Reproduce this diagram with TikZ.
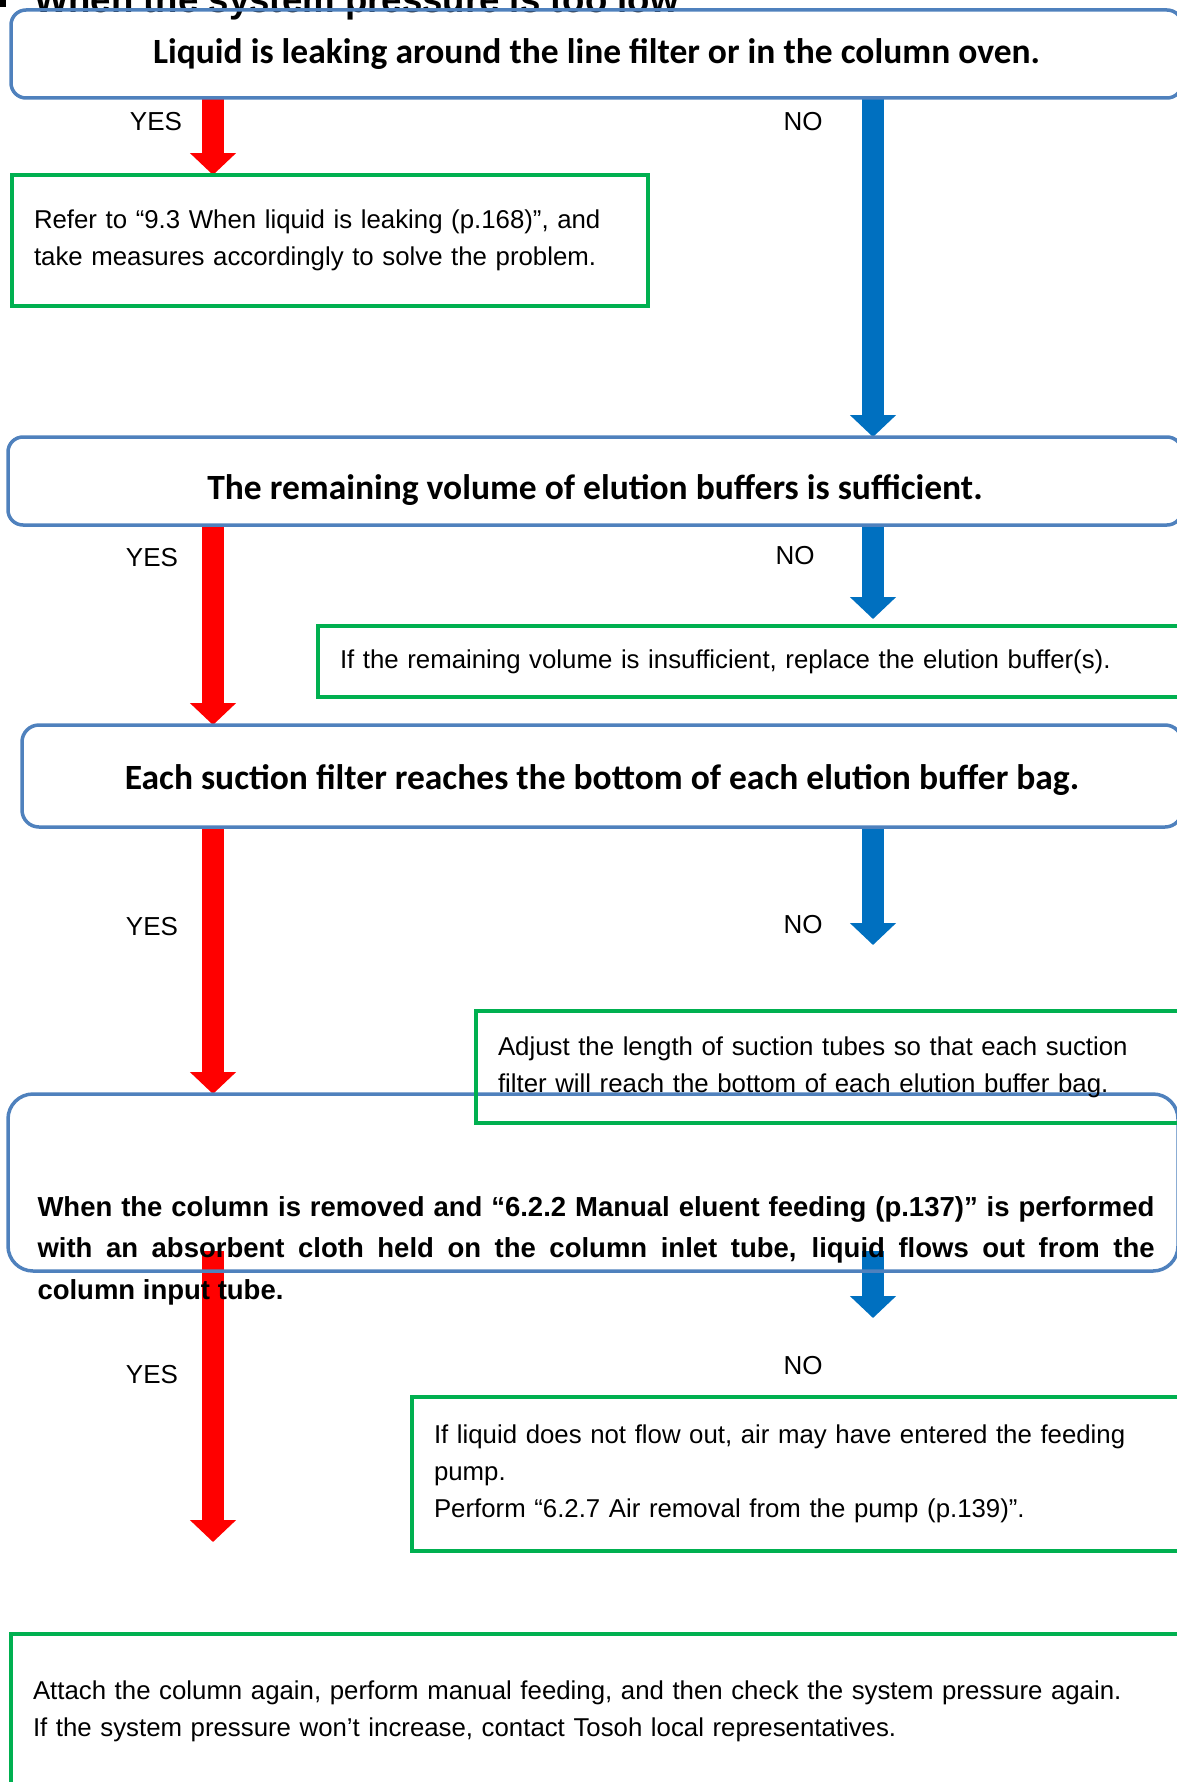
\documentclass[tikz,border=0pt]{standalone}
\usepackage{fontspec}
\setmainfont{Liberation Sans}
\newfontfamily\headfont{Carlito}
\usetikzlibrary{arrows.meta,calc,positioning}
\definecolor{qblue}{HTML}{4F81BD}
\definecolor{agreen}{HTML}{00B050}
\definecolor{yred}{HTML}{FF0000}
\definecolor{nblue}{HTML}{0070C0}
\pgfdeclarelayer{back}
\pgfsetlayers{back,main}

\begin{document}
\begin{tikzpicture}[
    x=1pt, y=-1pt,
    >={Triangle[length=22pt,width=45pt]},
    line cap=butt, line join=miter,
    every node/.style={inner sep=0pt, outer sep=0pt},
    qbox/.style={draw=qblue, line width=3.5pt, anchor=north west, rounded corners=#1,
                 text height=0pt, text depth=0pt,
                 font=\headfont\bfseries\fontsize{35.5}{40}\selectfont},
    qbox/.default=15pt,
    abox/.style={draw=agreen, line width=4.5pt, anchor=north west, inner xsep=22pt,
                 align=left, font=\fontsize{25.8}{37}\selectfont},
    lbl/.style={font=\fontsize{26}{30}\selectfont},
    yes/.style={yred, line width=22pt, ->},
    no/.style={nblue, line width=22pt, ->},
]

% ============================================================
% Page frame and cut-off heading
% ============================================================
\clip (0,0) rectangle (1177,1782);
\fill (0,0) rectangle (6,7);
\node[font=\bfseries\fontsize{36.6}{40}\selectfont, anchor=base west] (title) at (34,13)
  {When the system pressure is too low};

% Arrow columns
\coordinate (ycol) at (213,0);
\coordinate (ncol) at (873,0);

% ============================================================
% Questions (blue)
% ============================================================
\node[qbox, minimum width=1171pt, minimum height=88pt] (q1) at (11,10)
  {\raisebox{-10pt}{Liquid is leaking around the line filter or in the column oven.}};
\node[qbox, minimum width=1174pt, minimum height=88pt] (q2) at (8,437)
  {\raisebox{-18pt}{The remaining volume of elution buffers is sufficient.}};
\node[qbox=17pt, minimum width=1160pt, minimum height=102pt] (q3) at (22,725)
  {\raisebox{-13.5pt}{Each suction filter reaches the bottom of each elution buffer bag.}};
\node[qbox=25pt, minimum width=1170pt, minimum height=177pt] (q4) at (8,1094) {};
\node[font=\bfseries\fontsize{27.5}{41.5}\selectfont, text width=1117pt, align=justify,
      anchor=base west] (q4txt) at (37.5,1216)
  {When the column is removed and “6.2.2 Manual eluent feeding (p.137)” is performed\linebreak
   with an absorbent cloth held on the column inlet tube, liquid flows out from the\linebreak
   column input tube.};

% ============================================================
% Answers (green)
% ============================================================
\node[abox, text width=592pt, minimum height=131pt] (a1) at (12,175)
  {Refer to “9.3 When liquid is leaking (p.168)”, and\\
   take measures accordingly to solve the problem.};
\node[abox, text width=836pt, minimum height=71pt] (a2) at (318,626)
  {If the remaining volume is insufficient, replace the elution buffer(s).};
\node[abox, text width=676pt, minimum height=112pt] (a3) at (476,1011)
  {Adjust the length of suction tubes so that each suction\\
   filter will reach the bottom of each elution buffer bag.};
\node[abox, text width=746pt, minimum height=154pt] (a4) at (412,1397)
  {If liquid does not flow out, air may have entered the feeding\\
   pump.\\
   Perform “6.2.7 Air removal from the pump (p.139)”.};
\node[abox, text width=1146pt, minimum height=155pt] (a5) at (11,1634)
  {Attach the column again, perform manual feeding, and then check the system pressure again.\\
   If the system pressure won’t increase, contact Tosoh local representatives.};

% Free arrow ends
\coordinate (n3end) at (873,945);
\coordinate (y4end) at (213,1542);
\coordinate (n4end) at (873,1318);

% ============================================================
% YES / NO arrows (under the boxes)
% ============================================================
\begin{pgfonlayer}{back}
\draw[yes] (q1.south -| ycol) -- (a1.north -| ycol);
\draw[no]  (q1.south -| ncol) -- (q2.north -| ncol);
\draw[yes] (q2.south -| ycol) -- (q3.north -| ycol);
\draw[no, shorten >=7pt] (q2.south -| ncol) -- (a2.north -| ncol);
\draw[yes] (q3.south -| ycol) -- (q4.north -| ycol);
\draw[no]  (q3.south -| ncol) -- (n3end);
\draw[yes] ($(q4.south -| ycol)+(0,-20)$) -- (y4end);
\draw[no]  ($(q4.south -| ncol)+(0,-20)$) -- (n4end);
\end{pgfonlayer}

% Labels
\node[lbl] (yes1) at (156,122) {YES};
\node[lbl] (no1)  at (803,122) {NO};
\node[lbl] (yes2) at (152,558) {YES};
\node[lbl] (no2)  at (795,556) {NO};
\node[lbl] (yes3) at (152,927) {YES};
\node[lbl] (no3)  at (803,925) {NO};
\node[lbl] (yes4) at (152,1375) {YES};
\node[lbl] (no4)  at (803,1366) {NO};

\end{tikzpicture}
\end{document}
